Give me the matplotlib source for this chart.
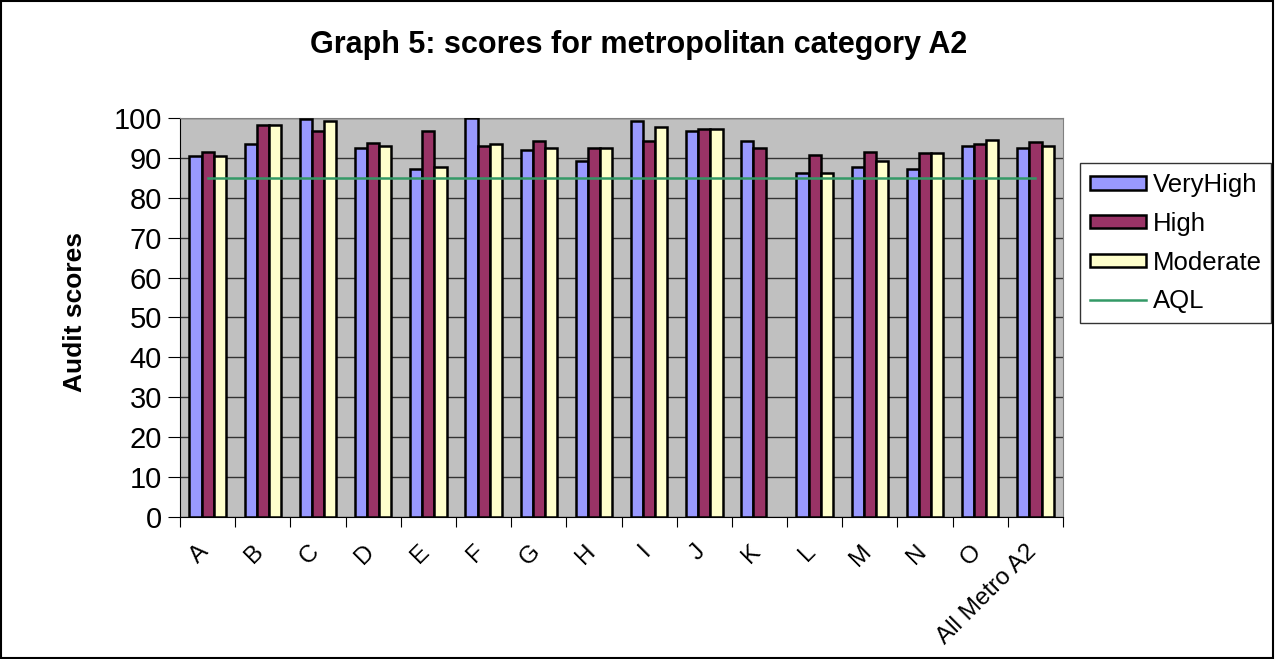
import numpy as np
import matplotlib.pyplot as plt
import matplotlib.transforms as mtransforms
from matplotlib.patches import Rectangle

plt.rcParams['font.family'] = ['Liberation Sans', 'DejaVu Sans']

# data
categories = ['A', 'B', 'C', 'D', 'E', 'F', 'G', 'H', 'I', 'J', 'K', 'L', 'M', 'N', 'O', 'All Metro A2']
very_high = [90.5, 93.5, 99.7, 92.4, 87.2, 100.0, 92.0, 89.2, 99.2, 96.8, 94.3, 86.3, 87.6, 87.2, 93.0, 92.5]
high = [91.5, 98.2, 96.8, 93.8, 96.8, 93.0, 94.3, 92.4, 94.3, 97.2, 92.4, 90.6, 91.5, 91.1, 93.5, 93.9]
moderate = [90.5, 98.2, 99.2, 93.0, 87.6, 93.5, 92.5, 92.4, 97.7, 97.2, np.nan, 86.3, 89.1, 91.1, 94.4, 93.0]
aql = [85] * len(categories)

x = np.arange(len(categories))
w = 0.22

fig = plt.figure(figsize=(12.76, 6.59), dpi=100)
ax = fig.add_axes([0.1411, 0.2155, 0.692, 0.6055])
ax.set_facecolor('#C0C0C0')

b1 = ax.bar(x - w, very_high, w, color='#9999FF', edgecolor='black', linewidth=1.8, label='VeryHigh', zorder=3)
b2 = ax.bar(x, high, w, color='#993366', edgecolor='black', linewidth=1.8, label='High', zorder=3)
b3 = ax.bar(x + w, moderate, w, color='#FFFFCC', edgecolor='black', linewidth=1.8, label='Moderate', zorder=3)
l1, = ax.plot(x, aql, color='#339966', linewidth=1.8, label='AQL', zorder=4)

ax.set_xlim(-0.5, len(categories) - 0.5)
ax.set_ylim(0, 100)
ax.set_yticks(np.arange(0, 101, 10))
ax.tick_params(axis='y', labelsize=21, length=9, direction='out', pad=4)
ax.yaxis.grid(True, color='#333333', linewidth=1, zorder=0)

# ticks at category boundaries, labels at centres
ax.set_xticks(np.arange(-0.5, len(categories), 1))
ax.set_xticklabels([])
ax.tick_params(axis='x', which='major', length=7, direction='out')
ax.set_xticks(x, minor=True)
ax.set_xticklabels(categories, minor=True, rotation=45, ha='right', rotation_mode='anchor', fontsize=17.5)
ax.tick_params(axis='x', which='minor', length=0, pad=17)
shift = mtransforms.ScaledTranslation(-10 / 100, 0, fig.dpi_scale_trans)
for lab in ax.get_xticklabels(minor=True):
    lab.set_transform(lab.get_transform() + shift)

for side in ['top', 'right']:
    ax.spines[side].set_color('#808080')
for side in ['left', 'bottom']:
    ax.spines[side].set_color('black')

fig.text(75 / 1276, 1 - 312 / 659, 'Audit scores', rotation=90, ha='center', va='center',
         fontsize=19, fontweight='bold')
fig.text(0.5008, 0.932, 'Graph 5: scores for metropolitan category A2', ha='center', va='center',
         fontsize=22, fontweight='bold')

leg = ax.legend([b1, b2, b3, l1], ['VeryHigh', 'High', 'Moderate', 'AQL'],
                loc='upper left', bbox_to_anchor=(1080 / 1276, 1 - 163 / 659), bbox_transform=fig.transFigure,
                fontsize=18.5, frameon=True, fancybox=False, edgecolor='black', borderaxespad=0,
                handlelength=2.2, handleheight=0.45, labelspacing=0.58, borderpad=0.38, handletextpad=0.25)
leg.get_frame().set_linewidth(1)

fig.patches.append(Rectangle((0.001, 0.001), 0.997, 0.997, transform=fig.transFigure,
                             fill=False, edgecolor='black', linewidth=1.5))

fig.savefig('out.png', dpi=100)
